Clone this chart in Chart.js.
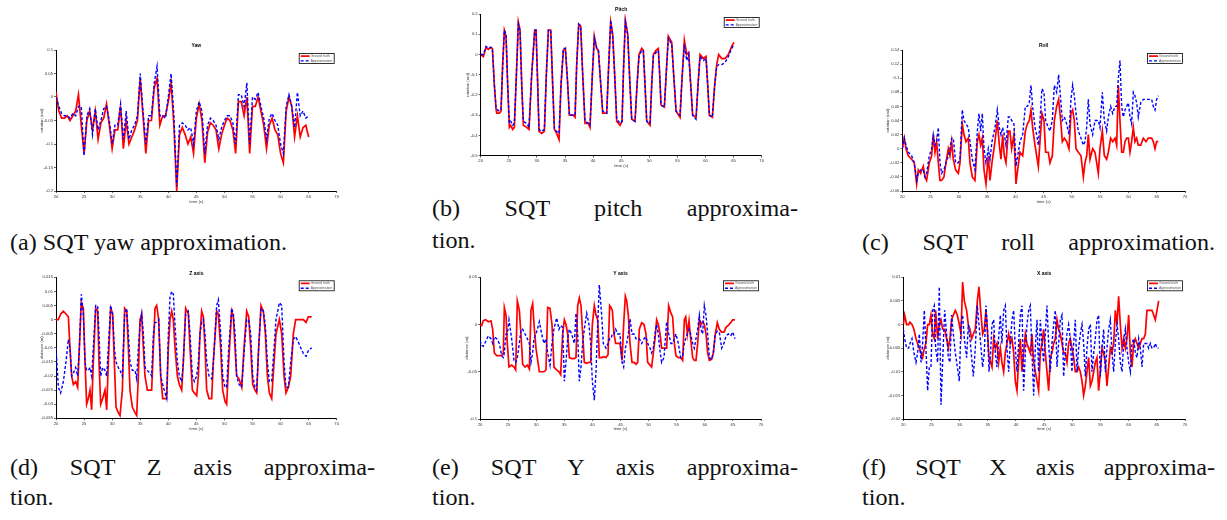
<!DOCTYPE html>
<html>
<head>
<meta charset="utf-8">
<script src="https://cdn.jsdelivr.net/npm/chart.js@4.4.1/dist/chart.umd.min.js"></script>
<style>
  html, body { margin: 0; padding: 0; background: #fff; }
  body { width: 1227px; height: 520px; position: relative; overflow: hidden; }
  canvas { position: absolute; }
  .cap { position: absolute; font-size: 23px; line-height: 23px; color: #111; white-space: nowrap;
         transform-origin: 0 0; font-weight: normal; }
  .cap.just { text-align: justify; text-align-last: justify; white-space: normal; }
</style>
</head>
<body>
<script>
// ---------- Yaw (rad) ----------
const yawTime = [20, 20.5, 21, 21.5, 22, 22.5, 23, 23.5, 24, 24.5,
  25, 25.5, 26, 26.5, 27, 27.5, 28, 28.5, 29, 29.5,
  30, 30.5, 31, 31.5, 32, 32.5, 33, 33.5, 34, 34.5,
  35, 35.5, 36, 36.5, 37, 37.5, 38, 38.5, 39, 39.5,
  40, 40.5, 41, 41.5, 42, 42.5, 43, 43.5, 44, 44.5,
  45, 45.5, 46, 46.5, 47, 47.5, 48, 48.5, 49, 49.5,
  50, 50.5, 51, 51.5, 52, 52.5, 53, 53.5, 54, 54.5,
  55, 55.5, 56, 56.5, 57, 57.5, 58, 58.5, 59, 59.5,
  60, 60.5, 61, 61.5, 62, 62.5, 63, 63.5, 64, 64.5,
  65];
const yawTruth = [0.01, -0.03, -0.045, -0.045, -0.04, -0.05, -0.04, -0.03, 0.005, -0.06,
  -0.12, -0.05, -0.03, -0.07, -0.03, -0.09, -0.055, -0.045, -0.015, -0.06,
  -0.11, -0.07, -0.07, -0.02, -0.11, -0.05, -0.1, -0.085, -0.07, -0.05,
  0.04, -0.04, -0.12, -0.05, -0.05, 0.02, 0.04, -0.06, -0.04, -0.04,
  -0.01, 0.03, -0.06, -0.2, -0.08, -0.065, -0.08, -0.1, -0.085, -0.12,
  -0.045, -0.015, -0.05, -0.14, -0.075, -0.055, -0.06, -0.07, -0.11, -0.08,
  -0.06, -0.045, -0.05, -0.07, -0.12, -0.01, -0.01, -0.04, 0.0, -0.12,
  -0.02, -0.02, 0.0, -0.03, -0.06, -0.11, -0.06, -0.045, -0.07, -0.08,
  -0.12, -0.14, -0.03, 0.0, -0.02, -0.085, -0.04, -0.085, -0.065, -0.06,
  -0.085];
const yawApprox = [0.0, -0.02, -0.035, -0.04, -0.04, -0.045, -0.035, -0.04, -0.02, -0.02,
  -0.125, -0.04, -0.025, -0.08, -0.025, -0.07, -0.05, -0.025, -0.02, -0.05,
  -0.1, -0.06, -0.06, -0.015, -0.09, -0.03, -0.09, -0.07, -0.06, -0.04,
  0.05, -0.03, -0.1, -0.04, -0.04, 0.03, 0.065, -0.04, -0.04, -0.045,
  0.0, 0.05, -0.04, -0.19, -0.06, -0.055, -0.06, -0.07, -0.065, -0.1,
  -0.03, -0.01, -0.03, -0.12, -0.06, -0.045, -0.05, -0.06, -0.09, -0.065,
  -0.05, -0.04, -0.04, -0.055, -0.1, 0.005, 0.005, -0.02, 0.03, -0.1,
  0.0, -0.005, 0.01, -0.02, -0.045, -0.09, -0.045, -0.035, -0.05, -0.06,
  -0.1, -0.12, -0.02, 0.005, -0.02, -0.065, 0.01, -0.04, -0.03, -0.045,
  -0.04];

// ---------- Pitch (rad) ----------
const pitchTime = [20.0, 20.47, 20.95, 21.36, 21.78, 22.08, 22.43, 22.73, 22.85, 23.32,
  23.62, 23.91, 24.21, 24.51, 24.80, 25.10, 25.34, 25.69, 25.99, 26.35,
  26.70, 27.00, 27.30, 27.59, 28.18, 28.60, 29.07, 29.61, 29.85, 30.14,
  30.38, 30.85, 31.33, 31.68, 32.04, 32.46, 32.81, 33.11, 33.52, 33.94,
  34.29, 34.71, 35.07, 35.42, 35.78, 36.49, 36.79, 37.08, 37.44, 37.79,
  38.15, 38.56, 39.16, 39.45, 39.87, 40.22, 40.64, 40.94, 41.29, 41.71,
  42.42, 42.78, 43.13, 43.49, 43.84, 44.20, 44.79, 45.15, 45.44, 45.74,
  46.16, 46.51, 46.87, 47.46, 47.82, 48.17, 48.65, 48.94, 49.24, 49.54,
  50.13, 50.43, 50.72, 51.19, 51.61, 51.85, 52.09, 52.68, 53.04, 53.39,
  53.99, 54.34, 54.76, 55.47, 55.82, 56.24, 56.66, 57.01, 57.37, 57.72,
  58.32, 58.67, 59.03, 59.62, 60.09, 60.39, 60.69, 61.22, 61.64, 61.99,
  62.35, 62.88, 63.48, 64.07, 64.66, 65.08];
const pitchTruth = [0.0, -0.01, 0.035, 0.025, 0.035, 0.03, -0.15, -0.27, -0.29, -0.29,
  -0.28, -0.05, 0.12, 0.09, -0.15, -0.36, -0.35, -0.37, -0.36, -0.1,
  0.16, 0.12, -0.15, -0.35, -0.36, -0.37, -0.1, 0.12, 0.12, -0.15,
  -0.38, -0.39, -0.38, -0.1, 0.12, 0.12, -0.15, -0.37, -0.39, -0.42,
  -0.15, 0.02, 0.03, -0.12, -0.3, -0.3, -0.31, -0.05, 0.15, 0.14,
  -0.1, -0.34, -0.34, -0.36, -0.1, 0.09, 0.03, 0.02, -0.12, -0.29,
  -0.29, -0.05, 0.16, 0.1, -0.1, -0.33, -0.35, -0.33, -0.05, 0.17,
  0.1, -0.12, -0.32, -0.33, -0.15, 0.0, 0.03, 0.02, -0.15, -0.33,
  -0.35, -0.15, 0.0, 0.02, 0.03, -0.1, -0.25, -0.26, -0.08, 0.09,
  0.06, -0.1, -0.28, -0.31, -0.12, 0.07, 0.0, 0.01, -0.15, -0.3,
  -0.31, -0.15, 0.0, -0.02, -0.01, -0.15, -0.3, -0.31, -0.15, -0.05,
  0.0, -0.02, -0.02, 0.0, 0.04, 0.06];
const pitchApprox = [0.0, 0.0, 0.04, 0.03, 0.035, 0.03, -0.15, -0.26, -0.27, -0.28,
  -0.27, -0.05, 0.12, 0.1, -0.15, -0.34, -0.33, -0.35, -0.34, -0.1,
  0.15, 0.12, -0.15, -0.33, -0.34, -0.36, -0.1, 0.12, 0.12, -0.15,
  -0.37, -0.38, -0.37, -0.1, 0.12, 0.12, -0.15, -0.37, -0.38, -0.39,
  -0.15, 0.03, 0.03, -0.12, -0.3, -0.3, -0.3, -0.05, 0.15, 0.14,
  -0.1, -0.33, -0.34, -0.35, -0.1, 0.08, 0.03, 0.02, -0.12, -0.28,
  -0.29, -0.05, 0.17, 0.09, -0.1, -0.32, -0.34, -0.33, -0.05, 0.16,
  0.1, -0.12, -0.32, -0.33, -0.15, -0.01, 0.02, 0.02, -0.15, -0.33,
  -0.34, -0.15, -0.01, 0.01, 0.02, -0.1, -0.25, -0.26, -0.08, 0.08,
  0.05, -0.1, -0.28, -0.3, -0.12, 0.05, -0.03, 0.0, -0.15, -0.3,
  -0.32, -0.15, -0.01, -0.03, -0.02, -0.15, -0.3, -0.31, -0.15, -0.06,
  -0.05, -0.05, -0.04, -0.01, 0.03, 0.05];

// ---------- Roll (rad) ----------
const rollTime = [20.00, 20.35, 20.65, 21.06, 21.65, 22.12, 22.54, 22.83, 23.24, 23.71,
  24.01, 24.30, 24.78, 25.19, 25.48, 25.78, 26.07, 26.37, 26.66, 26.96,
  27.37, 27.72, 28.14, 28.43, 28.73, 29.02, 29.43, 29.91, 30.20, 30.61,
  30.91, 31.26, 31.67, 31.97, 32.38, 32.85, 33.27, 33.56, 33.86, 34.15,
  34.45, 34.80, 35.21, 35.51, 35.86, 36.39, 36.80, 37.16, 37.45, 37.75,
  38.04, 38.34, 38.75, 39.04, 39.34, 39.75, 40.11, 40.40, 40.81, 41.29,
  41.76, 42.11, 42.46, 42.76, 43.05, 43.47, 43.76, 44.06, 44.35, 44.70,
  45.06, 45.35, 45.82, 46.12, 46.53, 46.89, 47.30, 47.65, 48.01, 48.30,
  48.66, 49.07, 49.48, 49.83, 50.13, 50.42, 50.72, 51.13, 51.60, 52.02,
  52.31, 52.61, 52.90, 53.20, 53.67, 54.08, 54.67, 54.96, 55.38, 55.73,
  56.14, 56.44, 56.85, 57.21, 57.62, 57.91, 58.21, 58.50, 58.80, 59.09,
  59.39, 59.68, 59.98, 60.27, 60.56, 60.86, 61.15, 61.45, 61.74, 62.16,
  62.63, 63.10, 63.51, 64.10, 64.40, 64.69, 64.99, 65.28];
const rollTruth = [0.0, 0.015, 0.0, -0.01, -0.015, -0.02, -0.05, -0.03, -0.035, -0.025,
  -0.04, -0.045, -0.02, -0.01, 0.02, -0.005, 0.01, -0.02, -0.045, -0.045,
  -0.04, -0.02, 0.0, -0.01, 0.01, -0.015, -0.03, -0.035, -0.02, 0.035,
  0.02, 0.01, 0.015, -0.02, -0.04, -0.045, 0.01, 0.02, 0.005, 0.015,
  -0.03, -0.05, -0.01, -0.045, -0.02, 0.01, 0.04, 0.005, -0.015, 0.02,
  -0.01, -0.02, 0.025, 0.025, 0.0, 0.02, -0.05, -0.03, -0.005, -0.01,
  0.025, 0.035, 0.04, 0.055, 0.03, 0.005, -0.01, -0.025, 0.01, 0.05,
  0.04, -0.005, -0.005, -0.02, -0.01, 0.04, 0.06, 0.07, 0.04, 0.01,
  0.015, 0.01, 0.0, 0.05, 0.055, 0.04, 0.0, -0.005, -0.01, -0.04,
  -0.02, -0.01, 0.02, -0.015, 0.0, -0.005, -0.035, 0.0, 0.025, -0.01,
  -0.015, -0.005, 0.015, 0.01, 0.015, 0.005, 0.09, 0.04, -0.005, -0.005,
  0.01, 0.015, 0.015, -0.005, 0.01, 0.03, 0.01, 0.015, 0.005, 0.005,
  0.015, 0.01, 0.015, 0.015, 0.01, 0.0, 0.01, 0.01];
const rollApprox = [0.0, 0.015, 0.005, -0.005, -0.01, -0.02, -0.045, -0.035, -0.03, -0.03,
  -0.04, -0.035, -0.01, 0.0, 0.02, 0.005, 0.01, 0.03, -0.02, -0.035,
  -0.03, -0.02, -0.01, 0.0, 0.015, 0.015, -0.02, -0.02, -0.015, 0.055,
  0.04, 0.035, 0.03, 0.01, -0.015, -0.03, 0.025, 0.05, 0.025, 0.05,
  0.0, -0.02, 0.0, -0.015, 0.01, 0.03, 0.055, 0.03, 0.02, 0.03,
  0.02, 0.005, 0.045, 0.045, 0.04, 0.035, -0.025, -0.01, 0.01, 0.02,
  0.06, 0.06, 0.065, 0.09, 0.06, 0.03, 0.02, 0.005, 0.04, 0.085,
  0.08, 0.04, 0.03, 0.025, 0.04, 0.09, 0.08, 0.105, 0.07, 0.04,
  0.045, 0.035, 0.02, 0.07, 0.09, 0.075, 0.05, 0.025, 0.015, 0.005,
  0.01, 0.03, 0.07, 0.035, 0.02, 0.04, 0.04, 0.03, 0.08, 0.04,
  0.025, 0.045, 0.06, 0.05, 0.06, 0.06, 0.1, 0.125, 0.06, 0.045,
  0.055, 0.06, 0.065, 0.045, 0.035, 0.08, 0.075, 0.065, 0.045, 0.065,
  0.07, 0.07, 0.07, 0.07, 0.06, 0.055, 0.07, 0.075];

// ---------- Z axis (m) ----------
const zTime = [20.00, 20.42, 20.83, 21.31, 21.78, 22.20, 22.49, 22.79, 23.09, 23.50,
  23.86, 24.16, 24.51, 24.87, 25.17, 25.46, 25.76, 26.06, 26.35, 26.65,
  27.07, 27.42, 27.66, 27.96, 28.31, 28.73, 29.03, 29.32, 29.74, 30.09,
  30.39, 30.69, 31.10, 31.40, 31.82, 32.23, 32.59, 32.89, 33.18, 33.60,
  34.07, 34.37, 34.67, 34.96, 35.26, 35.56, 35.85, 36.27, 36.75, 37.04,
  37.34, 37.64, 37.93, 38.29, 38.65, 39.00, 39.42, 39.71, 40.01, 40.31,
  40.61, 40.90, 41.20, 41.62, 41.97, 42.39, 42.68, 43.10, 43.57, 43.87,
  44.29, 44.64, 45.06, 45.36, 45.65, 45.95, 46.25, 46.54, 46.84, 47.26,
  47.73, 48.03, 48.62, 48.92, 49.33, 49.69, 50.11, 50.40, 50.76, 51.29,
  51.59, 51.89, 52.18, 52.60, 53.08, 53.49, 53.97, 54.32, 54.68, 55.04,
  55.45, 55.75, 56.10, 56.52, 56.93, 57.29, 57.65, 58.00, 58.42, 58.84,
  59.19, 59.79, 60.20, 60.62, 60.97, 61.39, 61.81, 62.28, 62.69, 63.17,
  63.59, 64.06, 64.54, 64.95, 65.55];
const zTruth = [0.0, 0.0, 0.002, 0.003, 0.002, 0.001, -0.01, -0.02, -0.023, -0.022,
  -0.024, -0.01, 0.006, 0.004, -0.015, -0.03, -0.028, -0.025, -0.032, -0.015,
  0.004, 0.003, -0.015, -0.03, -0.028, -0.025, -0.032, -0.015, 0.004, 0.002,
  -0.015, -0.031, -0.033, -0.034, -0.025, 0.004, 0.003, -0.01, -0.025, -0.031,
  -0.033, -0.034, -0.02, 0.0, 0.002, -0.01, -0.02, -0.025, -0.025, -0.025,
  -0.01, 0.004, 0.005, 0.0, -0.02, -0.028, -0.028, -0.028, -0.01, 0.0,
  0.003, 0.0, -0.01, -0.02, -0.023, -0.025, -0.015, 0.004, 0.002, -0.01,
  -0.025, -0.026, -0.027, -0.02, -0.005, 0.003, 0.001, -0.01, -0.025, -0.028,
  -0.028, -0.015, 0.003, 0.002, -0.01, -0.025, -0.029, -0.03, -0.015, 0.003,
  0.001, -0.01, -0.02, -0.021, -0.024, -0.01, 0.003, 0.001, -0.01, -0.023,
  -0.025, -0.026, -0.01, 0.005, 0.003, -0.005, -0.02, -0.026, -0.028, -0.015,
  -0.005, 0.0, -0.005, -0.02, -0.026, -0.024, -0.02, -0.005, 0.0, 0.0,
  0.0, 0.0, -0.001, 0.001, 0.001];
const zApprox = [-0.01, -0.024, -0.026, -0.022, -0.015, -0.007, -0.01, -0.02, -0.019, -0.017,
  -0.02, -0.01, 0.009, 0.002, -0.015, -0.018, -0.018, -0.017, -0.02, -0.01,
  0.005, 0.005, -0.005, -0.02, -0.017, -0.018, -0.02, -0.01, 0.005, 0.002,
  -0.01, -0.015, -0.017, -0.018, -0.02, 0.002, 0.004, -0.005, -0.015, -0.018,
  -0.018, -0.021, -0.01, -0.002, 0.002, -0.005, -0.017, -0.018, -0.019, -0.02,
  -0.005, -0.001, -0.001, 0.0, -0.02, -0.023, -0.026, -0.028, -0.005, 0.008,
  0.01, 0.009, -0.002, -0.015, -0.02, -0.022, -0.015, 0.002, 0.003, -0.005,
  -0.02, -0.022, -0.02, -0.015, -0.005, -0.001, 0.0, -0.005, -0.015, -0.02,
  -0.021, -0.015, 0.005, 0.007, -0.005, -0.02, -0.024, -0.024, -0.01, 0.004,
  0.002, -0.005, -0.02, -0.023, -0.024, -0.012, 0.0, 0.0, -0.005, -0.02,
  -0.024, -0.025, -0.01, 0.004, 0.003, -0.002, -0.015, -0.022, -0.022, -0.01,
  0.0, 0.006, 0.005, -0.015, -0.024, -0.024, -0.015, -0.007, -0.006, -0.008,
  -0.01, -0.012, -0.013, -0.011, -0.01];

// ---------- Y axis (m) ----------
const yTime = [20.00, 20.30, 20.59, 21.01, 21.48, 21.96, 22.25, 22.55, 22.97, 23.44,
  23.86, 24.15, 24.33, 24.63, 24.86, 25.16, 25.63, 26.05, 26.35, 26.64,
  27.00, 27.29, 27.59, 28.01, 28.42, 28.78, 29.07, 29.37, 29.61, 29.96,
  30.20, 30.56, 30.97, 31.39, 31.74, 32.04, 32.46, 32.81, 33.17, 33.64,
  34.06, 34.35, 34.71, 35.01, 35.30, 35.60, 35.90, 36.31, 36.79, 37.08,
  37.38, 37.67, 37.97, 38.27, 38.56, 38.98, 39.39, 39.69, 39.99, 40.34,
  40.64, 40.94, 41.23, 41.65, 41.94, 42.42, 42.78, 43.07, 43.31, 43.55,
  43.84, 44.14, 44.50, 44.91, 45.27, 45.56, 45.86, 46.10, 46.39, 46.69,
  47.05, 47.40, 47.76, 48.05, 48.35, 48.77, 49.18, 49.54, 49.83, 50.25,
  50.54, 50.84, 51.14, 51.43, 51.73, 52.03, 52.32, 52.74, 53.21, 53.57,
  53.98, 54.28, 54.58, 54.87, 55.29, 55.71, 56.06, 56.36, 56.60, 56.89,
  57.19, 57.48, 57.84, 58.14, 58.43, 58.73, 59.03, 59.32, 59.62, 59.92,
  60.21, 60.51, 60.81, 61.22, 61.52, 61.87, 62.23, 62.58, 63.00, 63.41,
  63.77, 64.19, 64.60, 64.96, 65.37];
const yTruth = [0.0, -0.001, 0.004, 0.005, 0.003, 0.004, -0.005, -0.03, -0.033, -0.033,
  -0.033, -0.03, 0.018, 0.01, -0.02, -0.045, -0.043, -0.045, -0.048, 0.025,
  0.015, -0.01, -0.042, -0.045, -0.043, -0.047, 0.015, 0.022, 0.0, -0.025,
  -0.035, -0.05, -0.05, -0.05, -0.048, 0.018, 0.017, 0.0, -0.045, -0.048,
  -0.05, -0.053, -0.01, 0.005, 0.0, -0.01, -0.035, -0.036, -0.036, -0.035,
  0.02, 0.028, 0.02, -0.01, -0.04, -0.041, -0.04, -0.04, 0.0, 0.02,
  0.01, 0.005, -0.035, -0.035, -0.034, -0.035, -0.032, 0.02, 0.018, 0.015,
  -0.01, -0.02, -0.02, -0.02, -0.038, 0.0, 0.03, 0.025, 0.01, -0.02,
  -0.04, -0.04, -0.042, -0.04, -0.005, 0.002, 0.0, -0.01, -0.04, -0.043,
  -0.045, -0.03, -0.015, 0.005, 0.0, -0.01, -0.025, -0.025, -0.025, 0.02,
  0.012, 0.008, -0.02, -0.033, -0.035, -0.035, -0.038, 0.005, 0.008, -0.01,
  0.004, -0.015, -0.035, -0.038, -0.038, -0.02, 0.005, 0.0, 0.003, 0.0,
  -0.01, -0.03, -0.038, -0.037, -0.03, -0.01, 0.002, -0.005, -0.008, -0.008,
  -0.003, -0.001, 0.002, 0.005, 0.005];
const yApprox = [-0.017, -0.022, -0.023, -0.018, -0.012, -0.015, -0.02, -0.013, -0.015, -0.02,
  -0.033, -0.035, -0.03, -0.01, -0.01, 0.005, -0.015, -0.038, -0.04, -0.035,
  -0.02, -0.005, -0.005, -0.01, -0.015, -0.02, -0.04, -0.03, -0.015, -0.01,
  -0.005, 0.003, -0.01, -0.02, -0.015, -0.03, -0.043, -0.02, -0.004, 0.007,
  -0.005, -0.001, -0.003, -0.06, -0.04, -0.015, -0.005, -0.01, -0.02, 0.012,
  -0.01, -0.06, -0.045, -0.02, -0.005, 0.012, 0.0, -0.02, -0.06, -0.08,
  -0.05, 0.0, 0.042, 0.01, -0.02, -0.025, -0.02, -0.015, -0.015, -0.01,
  -0.01, -0.005, -0.01, -0.01, -0.04, -0.045, -0.025, -0.02, -0.01, 0.006,
  -0.01, -0.01, -0.015, -0.015, -0.015, -0.02, -0.015, -0.013, -0.02, -0.025,
  -0.03, -0.025, -0.01, 0.0, -0.01, -0.028, -0.04, -0.035, 0.003, -0.01,
  -0.02, -0.02, -0.015, -0.01, -0.02, -0.035, -0.033, -0.02, -0.015, -0.01,
  -0.005, -0.01, -0.02, -0.025, -0.015, -0.005, 0.01, -0.005, -0.01, 0.02,
  0.01, -0.01, -0.035, -0.037, -0.03, -0.01, -0.007, -0.008, -0.025, -0.02,
  -0.012, -0.01, -0.012, -0.008, -0.015];

// ---------- X axis (m) ----------
const xTime = [20.00, 20.24, 20.59, 20.95, 21.18, 21.54, 21.89, 22.25, 22.54, 22.84,
  23.14, 23.43, 23.73, 24.02, 24.32, 24.62, 24.91, 25.21, 25.50, 25.74,
  26.09, 26.39, 26.69, 26.98, 27.34, 27.69, 27.99, 28.28, 28.58, 28.88,
  29.23, 29.59, 29.94, 30.24, 30.53, 30.83, 31.24, 31.54, 31.83, 32.13,
  32.43, 32.78, 33.14, 33.43, 33.73, 34.08, 34.38, 34.67, 34.91, 35.21,
  35.50, 35.74, 36.04, 36.33, 36.63, 36.92, 37.22, 37.51, 37.81, 38.11,
  38.40, 38.70, 38.99, 39.29, 39.59, 39.88, 40.18, 40.47, 40.77, 41.07,
  41.36, 41.66, 41.95, 42.25, 42.54, 42.84, 43.14, 43.43, 43.73, 44.02,
  44.32, 44.62, 44.91, 45.21, 45.50, 45.80, 46.09, 46.39, 46.69, 46.98,
  47.28, 47.57, 47.87, 48.17, 48.46, 48.76, 49.05, 49.35, 49.64, 49.94,
  50.24, 50.53, 50.83, 51.12, 51.42, 51.72, 52.01, 52.31, 52.60, 52.90,
  53.20, 53.49, 53.79, 54.08, 54.38, 54.67, 54.97, 55.27, 55.56, 55.86,
  56.15, 56.45, 56.75, 57.04, 57.34, 57.63, 57.93, 58.22, 58.52, 58.82,
  59.11, 59.41, 59.70, 60.00, 60.30, 60.59, 60.89, 61.18, 61.48, 61.78,
  62.07, 62.37, 62.66, 62.96, 63.25, 63.55, 63.85, 64.14, 64.44, 64.73,
  65.03, 65.33];
const xTruth = [0.0, 0.002, 0.0, 0.0, 0.0005, 0.0, -0.001, -0.003, -0.004, -0.005,
  -0.006, -0.007, -0.005, -0.004, 0.0, 0.0, 0.002, -0.002, -0.003, 0.003,
  -0.003, 0.0, 0.001, -0.001, -0.001, -0.003, -0.005, -0.003, 0.001, 0.002,
  0.003, 0.002, 0.0, -0.002, 0.009, 0.005, 0.003, 0.0, -0.001, -0.003,
  -0.002, -0.001, 0.005, 0.008, 0.003, -0.002, -0.001, 0.003, -0.001, -0.007,
  -0.008, -0.009, -0.003, -0.005, -0.004, -0.008, -0.005, -0.008, -0.01, -0.006,
  -0.004, -0.002, -0.004, -0.003, -0.006, -0.012, -0.014, -0.008, -0.003, -0.01,
  -0.006, -0.002, -0.004, -0.005, -0.006, -0.002, -0.008, -0.01, -0.012, -0.014,
  -0.006, -0.004, -0.001, -0.006, -0.01, -0.014, -0.007, -0.006, -0.004, -0.003,
  0.001, -0.001, -0.002, -0.004, -0.006, -0.006, -0.008, -0.004, -0.003, -0.005,
  -0.007, -0.01, -0.01, -0.009, -0.01, -0.012, -0.015, -0.013, -0.01, -0.007,
  -0.013, -0.012, -0.01, -0.008, -0.007, -0.014, -0.01, -0.005, -0.006, -0.008,
  -0.013, -0.009, -0.005, -0.006, -0.004, 0.003, 0.0, 0.006, 0.0, -0.005,
  -0.003, -0.005, -0.003, 0.002, -0.006, -0.009, -0.004, -0.003, -0.004, -0.005,
  -0.004, -0.003, -0.003, -0.002, 0.003, 0.003, 0.003, 0.003, 0.002, 0.001,
  0.003, 0.005];
const xApprox = [-0.001, -0.003, -0.005, -0.005, -0.004, -0.003, -0.006, -0.008, -0.006, -0.002,
  -0.008, -0.004, 0.003, -0.005, -0.014, -0.009, -0.009, 0.003, 0.004, -0.005,
  -0.008, 0.008, -0.017, -0.008, 0.003, -0.002, -0.007, -0.008, 0.002, -0.002,
  -0.006, -0.009, -0.012, 0.0, 0.002, -0.003, -0.007, 0.0, -0.003, -0.007,
  -0.011, -0.005, 0.004, 0.0, -0.004, -0.009, -0.006, 0.004, 0.0, -0.01,
  -0.006, 0.0, 0.001, -0.006, -0.009, -0.003, 0.002, -0.004, 0.003, 0.004,
  -0.005, -0.01, -0.004, 0.001, 0.003, -0.005, -0.01, -0.004, 0.002, 0.004,
  -0.014, -0.006, 0.0, 0.003, 0.004, -0.006, -0.015, -0.005, 0.001, -0.01,
  0.001, -0.004, -0.008, -0.002, 0.004, -0.004, -0.01, -0.004, 0.0, 0.003,
  -0.009, -0.004, 0.001, 0.002, -0.011, -0.006, -0.002, 0.0, -0.003, -0.01,
  -0.004, 0.001, -0.01, -0.005, -0.002, 0.0, -0.004, -0.011, -0.005, -0.001,
  0.0, -0.01, -0.006, -0.003, 0.001, 0.002, -0.011, -0.005, -0.001, -0.01,
  -0.005, -0.001, 0.001, -0.006, -0.01, -0.004, 0.0, -0.003, -0.008, -0.01,
  -0.004, -0.001, -0.005, -0.008, -0.01, -0.004, -0.003, -0.006, -0.007, -0.003,
  -0.005, -0.009, -0.004, -0.004, -0.004, -0.005, -0.004, -0.005, -0.005, -0.004,
  -0.005, -0.005];

// Time axis ticks and value-axis ranges [min, max, step]
const timeTicks = [20, 70, 5];
const yawRange = [-0.2, 0.1, 0.05];
const pitchRange = [-0.5, 0.2, 0.1];
const rollRange = [-0.06, 0.14, 0.02];
const zRange = [-0.035, 0.015, 0.005];
const yRange = [-0.1, 0.05, 0.05];
const xRange = [-0.02, 0.01, 0.005];
const seriesNames = ['Ground truth', 'Approximation'];

// ---------- drawing ----------
const FONT = '"Liberation Sans", Arial, Helvetica, sans-serif';
const SERIF = "'Liberation Serif', 'Times New Roman', serif";
Chart.defaults.font.family = FONT;

const fmt = v => String(Math.round(v * 100000) / 100000);

// title above the axes and a boxed legend in the upper-right corner of the plot area
const decor = {
  id: 'decor',
  afterDraw(chart, args, o) {
    const ctx = chart.ctx, a = chart.chartArea;
    ctx.save();
    ctx.fillStyle = '#000';
    ctx.font = 'bold 5px ' + FONT;
    ctx.textAlign = 'center';
    ctx.textBaseline = 'bottom';
    ctx.fillText(o.title, (a.left + a.right) / 2, a.top - 1.5);

    const w = 35, h = 10, x = a.right - 2.5 - w, y = a.top + 3.5;
    ctx.fillStyle = '#fff';
    ctx.fillRect(x, y, w, h);
    ctx.strokeStyle = '#000';
    ctx.lineWidth = 0.8;
    ctx.strokeRect(x, y, w, h);
    chart.data.datasets.forEach((ds, i) => {
      const ly = y + 2.6 + i * 4.8;
      ctx.strokeStyle = ds.borderColor;
      ctx.lineWidth = ds.borderWidth;
      ctx.setLineDash(ds.borderDash || []);
      ctx.beginPath();
      ctx.moveTo(x + 1.5, ly);
      ctx.lineTo(x + 10.5, ly);
      ctx.stroke();
      ctx.setLineDash([]);
      ctx.fillStyle = '#555';
      ctx.font = '3.4px ' + FONT;
      ctx.textAlign = 'left';
      ctx.textBaseline = 'middle';
      ctx.fillText(ds.label, x + 11.5, ly);
    });
    ctx.restore();
  }
};

function pts(t, v) {
  if (t.length !== v.length) throw new Error('length mismatch ' + t.length + ' vs ' + v.length);
  return t.map((x, i) => ({ x, y: v[i] }));
}

// box: canvas rectangle, area: wanted chart-area edges, ty: y-title offset
function plot(box, area, title, yTitle, ty, t, truth, approx, range) {
  const c = document.createElement('canvas');
  c.width = box[2]; c.height = box[3];
  c.style.left = box[0] + 'px'; c.style.top = box[1] + 'px';
  c.style.width = box[2] + 'px'; c.style.height = box[3] + 'px';
  document.body.appendChild(c);
  const yW = area[0] - box[0];
  const xH = box[1] + box[3] - area[3];
  const axisGrid = { drawOnChartArea: false, drawTicks: true, tickLength: 2, color: '#000', lineWidth: 0.6 };
  const tickFont = { size: 4.2, family: FONT };
  new Chart(c, {
    type: 'line',
    data: {
      datasets: [
        { label: seriesNames[0], data: pts(t, truth), borderColor: '#ff0000', borderWidth: 1.7,
          pointRadius: 0, tension: 0, order: 1 },
        { label: seriesNames[1], data: pts(t, approx), borderColor: '#0000ff', borderWidth: 1.4,
          borderDash: [3, 2], pointRadius: 0, tension: 0, order: 0 }
      ]
    },
    options: {
      responsive: false, animation: false, devicePixelRatio: 1,
      layout: { padding: { left: 0, top: area[1] - box[1], right: box[0] + box[2] - area[2], bottom: 0 } },
      plugins: { legend: { display: false }, title: { display: false }, tooltip: { enabled: false },
                 decor: { title } },
      scales: {
        x: {
          type: 'linear', min: timeTicks[0], max: timeTicks[1],
          ticks: { stepSize: timeTicks[2], font: tickFont, color: '#333', padding: 1, maxRotation: 0,
                   autoSkip: false, callback: fmt },
          grid: axisGrid, border: { display: true, color: '#000', width: 1 },
          title: { display: true, text: 'time (s)', font: { size: 4.2, family: FONT }, color: '#333',
                   padding: { top: 0, bottom: 2 } },
          afterFit: s => { s.height = xH; }
        },
        y: {
          type: 'linear', min: range[0], max: range[1],
          ticks: { stepSize: range[2], font: tickFont, color: '#333', padding: 1, autoSkip: false, callback: fmt },
          grid: axisGrid, border: { display: true, color: '#000', width: 1 },
          title: { display: true, text: yTitle, font: { size: 4.2, family: FONT }, color: '#333',
                   padding: { top: ty, bottom: 0 } },
          afterFit: s => { s.width = yW; }
        }
      }
    },
    plugins: [decor]
  });
}

plot([28, 38, 318, 168], [56, 50, 336.7, 191], 'Yaw', 'rotation (rad)', 11,
     yawTime, yawTruth, yawApprox, yawRange);
plot([455, 2, 318, 168], [480.7, 14, 761.7, 155.7], 'Pitch', 'rotation (rad)', 10,
     pitchTime, pitchTruth, pitchApprox, pitchRange);
plot([872, 38, 325, 168], [902.3, 50, 1185, 191], 'Roll', 'rotation (rad)', 13,
     rollTime, rollTruth, rollApprox, rollRange);
plot([28, 265, 318, 168], [56, 277.3, 336.7, 418.3], 'Z axis', 'distance (m)', 11,
     zTime, zTruth, zApprox, zRange);
plot([455, 265, 318, 168], [480, 277.3, 761, 419], 'Y axis', 'distance (m)', 9,
     yTime, yTruth, yApprox, yRange);
plot([872, 265, 325, 168], [903.3, 277.3, 1185, 419], 'X axis', 'distance (m)', 13,
     xTime, xTruth, xApprox, xRange);

// ---------- sub-figure captions ----------
// [text, left, baseline, width, justified]
const captions = [
  ['(a) SQT yaw approximation.', 10, 250, 277, false],
  ['(b) SQT pitch approxima-', 432, 216, 366, true],
  ['tion.', 432, 248, 52, false],
  ['(c) SQT roll approximation.', 862, 250, 353, true],
  ['(d) SQT Z axis approxima-', 10, 475, 365, true],
  ['tion.', 10, 505, 52, false],
  ['(e) SQT Y axis approxima-', 432, 475, 366, true],
  ['tion.', 432, 505, 52, false],
  ['(f) SQT X axis approxima-', 862, 475, 353, true],
  ['tion.', 862, 505, 52, false]
];
function capDiv(text, cls) {
  const d = document.createElement('div');
  d.className = cls;
  d.style.fontFamily = SERIF;
  d.textContent = text;
  document.body.appendChild(d);
  return d;
}
// one common horizontal stretch, taken from the single unjustified line (a)
const probe = capDiv(captions[0][0], 'cap');
const k = captions[0][3] / probe.getBoundingClientRect().width;
probe.remove();

captions.forEach(([text, x, base, w, just]) => {
  const d = capDiv(text, 'cap' + (just ? ' just' : ''));
  d.style.left = x + 'px';
  d.style.top = (base - 19) + 'px';
  if (just) d.style.width = (w / k) + 'px';
  d.style.transform = 'scaleX(' + k.toFixed(4) + ')';
});
</script>
</body>
</html>
